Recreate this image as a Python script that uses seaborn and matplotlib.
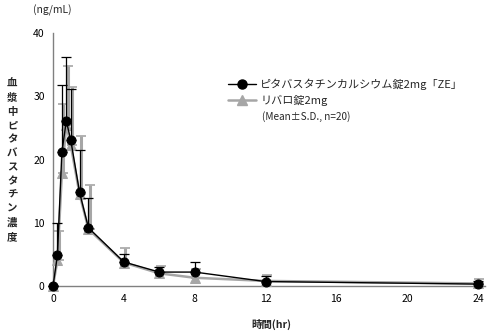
import numpy as np
import pandas as pd
import matplotlib
matplotlib.use("Agg")
import matplotlib.pyplot as plt
import seaborn as sns
from matplotlib.lines import Line2D

# ---- data ----
time_hr = [0, 0.25, 0.5, 0.75, 1, 1.5, 2, 4, 6, 8, 12, 24]
ze_mean = [0, 4.9, 21.2, 26.1, 23.1, 14.8, 9.2, 3.8, 2.2, 2.2, 0.7, 0.3]
ze_sd = [0, 5.1, 10.6, 10.1, 8.0, 6.7, 4.7, 1.3, 0.8, 1.6, 0.9, 0.5]
livalo_mean = [0, 4.1, 17.8, 25.5, 22.3, 14.5, 9.0, 3.7, 2.0, 1.3, 0.8, 0.4]
livalo_sd = [0, 4.6, 11.0, 9.3, 9.1, 9.3, 7.0, 2.3, 1.2, 1.4, 0.9, 0.7]
series_names = ["ピタバスタチンカルシウム錠2mg「ZE」", "リバロ錠2mg"]
note = "(Mean±S.D., n=20)"
x_ticks = [0, 4, 8, 12, 16, 20, 24]
y_ticks = [0, 10, 20, 30, 40]
y_label_chars = "血漿中ピタバスタチン濃度"

sns.set_theme(style="white")
plt.rcParams['font.family'] = ['Noto Sans CJK JP', 'DejaVu Sans']

df = pd.DataFrame({
    "time": time_hr * 2,
    "conc": ze_mean + livalo_mean,
    "sd": ze_sd + livalo_sd,
    "drug": [series_names[0]] * len(time_hr) + [series_names[1]] * len(time_hr),
})

fig = plt.figure(figsize=(4.91, 3.31), dpi=100)
ax = fig.add_axes([0.108, 0.136, 0.880, 0.764])

gray = "#a6a6a6"
black = "#000000"

# gray series (behind)
g = df[df.drug == series_names[1]]
ax.errorbar(g.time + 0.08, g.conc, yerr=[np.zeros(len(g)), g.sd], fmt="none",
            ecolor=gray, elinewidth=2.2, capsize=3.5, capthick=1.2, zorder=2, clip_on=False)
sns.lineplot(data=g, x="time", y="conc", ax=ax, color=gray, lw=1.8, marker="^",
             markersize=6.5, markeredgecolor=gray, zorder=3, clip_on=False, legend=False)

b = df[df.drug == series_names[0]]
ax.errorbar(b.time, b.conc, yerr=[np.zeros(len(b)), b.sd], fmt="none",
            ecolor=black, elinewidth=0.9, capsize=3.5, capthick=0.9, zorder=4, clip_on=False)
sns.lineplot(data=b, x="time", y="conc", ax=ax, color=black, lw=1.0, marker="o",
             markersize=6.5, markeredgecolor=black, zorder=5, clip_on=False, legend=False)

ax.set_xlim(0, 24.4)
ax.set_ylim(0, 40)
ax.set_xticks(x_ticks)
ax.set_yticks(y_ticks)
ax.set_xlabel("")
ax.set_ylabel("")
for s in ["top", "right"]:
    ax.spines[s].set_visible(False)
for s in ["left", "bottom"]:
    ax.spines[s].set_color("#808080")
    ax.spines[s].set_linewidth(1.0)
ax.tick_params(axis="both", direction="in", length=3, width=0.8, color="#808080",
               labelsize=7.5, labelcolor="black", pad=6)
ax.tick_params(axis="y", pad=6)

handles = [
    Line2D([], [], color=black, lw=1.0, marker="o", markersize=6.5),
    Line2D([], [], color=gray, lw=1.8, marker="^", markersize=6.5, markeredgecolor=gray),
]
leg = fig.legend(handles, series_names, loc="upper left", bbox_to_anchor=(0.455, 0.775),
                 frameon=False, fontsize=8, handlelength=2.5, handletextpad=0.4,
                 labelspacing=0.4, borderaxespad=0)
fig.text(0.533, 0.648, note, fontsize=7.2, va="center", ha="left")

fig.text(0.068, 0.97, "(ng/mL)", fontsize=7.5, va="center", ha="left")
fig.text(0.025, 0.515, "\n".join(y_label_chars), fontsize=7.5, va="center", ha="center",
         linespacing=1.48, fontweight="bold")
fig.text(0.553, 0.02, "時間(hr)", fontsize=7.5, va="center", ha="center", fontweight="bold")

fig.savefig("out.png", dpi=100)
